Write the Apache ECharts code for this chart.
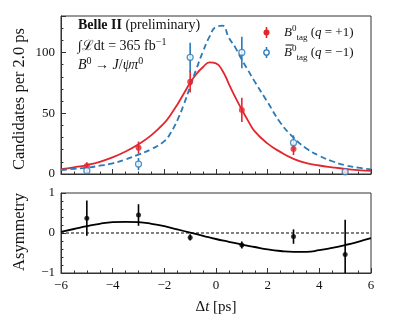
<!DOCTYPE html>
<html>
<head>
<meta charset="utf-8">
<script src="https://cdn.jsdelivr.net/npm/echarts@6/dist/echarts.min.js"></script>
<style>
html,body{margin:0;padding:0;background:#fff;}
#c{width:399px;height:332px;}
</style>
</head>
<body>
<div id="c"></div>
<script>
// ---- data ----
const ptX = [-5, -3, -1, 1, 3, 5];
const redY = [6.6, 21.7, 76, 52.7, 20.6, 1.5];
const redErr = [3, 5, 9, 10, 5, 1];
const blueY = [2.7, 8.2, 96, 100, 25.8, 1.9];
const blueErr = [2, 5, 12, 13, 6, 1.5];

const fitX = [-6,-5.5,-5,-4.5,-4,-3.5,-3,-2.5,-2,-1.75,-1.5,-1.25,-1,-0.75,-0.5,-0.25,0,0.25,0.5,0.75,1,1.25,1.5,2,2.5,3,3.5,4,4.5,5,5.5,6];
const redFit = [3.9,5.5,7.4,10,13.7,18.5,24.5,32,42,49,57,66,75,82.5,88,91.8,91,85,74,63,53,43.5,35,25,18,12.5,9,7,5.5,4.2,3.2,2.5];
const blueFit = [3.3,4.2,5.2,6.8,8.8,12,16,20.5,27,34,44,57,72,87,101,113,121,122,112,104,94,85,76,59,42,30,21,15,10.5,7.2,5.2,3.8];

const asymX = [-6,-5.5,-5,-4.5,-4,-3.5,-3,-2.5,-2,-1.5,-1,-0.5,0,0.5,1,1.5,2,2.5,3,3.5,4,4.5,5,5.5,6];
const asymY = [0.37, 0.45, -0.11, -0.30, -0.09, -0.54];
const asymErr = [0.44, 0.27, 0.08, 0.09, 0.18, 0.87];
const asymFit = [0.03,0.10,0.17,0.23,0.27,0.28,0.27,0.23,0.17,0.09,0.01,-0.07,-0.15,-0.22,-0.29,-0.35,-0.41,-0.45,-0.47,-0.47,-0.43,-0.37,-0.30,-0.22,-0.13];
const zeroLine = [[-6, 0], [6, 0]];

const xTicks = [-6, -4, -2, 0, 2, 4, 6];
const topYTicks = [0, 50, 100];
const botYTicks = [-1, 0, 1];

// ---- styles ----
const RED = '#e3262e';
const BLUE = '#2a7ab8';
const AX = '#333';
const SERIF = '"Liberation Serif", "DejaVu Serif", serif';
const fmt = v => (v < 0 ? '\u2212' + Math.abs(v) : String(v));

function errBar(color) {
  return function (params, api) {
    const x = api.value(0), y = api.value(1), e = api.value(2);
    const p1 = api.coord([x, y + e]);
    const p2 = api.coord([x, y - e]);
    return {type: 'line', shape: {x1: p1[0], y1: p1[1], x2: p2[0], y2: p2[1]},
      style: {stroke: color, lineWidth: 1.6}};
  };
}
const zip3 = (a, b, c) => a.map((v, i) => [v, b[i], c[i]]);
const zip2 = (a, b) => a.map((v, i) => [v, b[i]]);

const axLine = {show: true, onZero: false, lineStyle: {color: AX, width: 1}};
function xAxisDef(grid, labels) {
  return {
    type: 'value', gridIndex: grid, min: -6, max: 6, interval: 2,
    axisLine: axLine,
    axisTick: {show: true, inside: true, length: 5, lineStyle: {color: AX}},
    minorTick: {show: true, splitNumber: 4, length: 2.5, lineStyle: {color: AX}},
    splitLine: {show: false},
    axisLabel: {show: labels, margin: 6, fontFamily: SERIF, fontSize: 13, color: '#111',
      formatter: v => xTicks.includes(v) ? fmt(v) : ''}
  };
}

const option = {
  animation: false,
  backgroundColor: '#fff',
  grid: [
    {left: 61, top: 16, width: 310, height: 158, show: true, borderColor: AX, borderWidth: 1, backgroundColor: 'transparent'},
    {left: 61, top: 193, width: 310, height: 80, show: true, borderColor: AX, borderWidth: 1, backgroundColor: 'transparent'}
  ],
  xAxis: [xAxisDef(0, false), xAxisDef(1, true)],
  yAxis: [
    {type: 'value', gridIndex: 0, min: 0, max: 130, interval: 50,
      axisLine: axLine,
      axisTick: {show: true, inside: true, length: 5, lineStyle: {color: AX}},
      splitLine: {show: false},
      axisLabel: {margin: 6, fontFamily: SERIF, fontSize: 13, color: '#111',
        formatter: v => topYTicks.includes(v) ? fmt(v) : ''}},
    {type: 'value', gridIndex: 0, min: 0, max: 130, interval: 10, position: 'left',
      axisLine: {show: false, onZero: false},
      axisTick: {show: true, inside: true, length: 2.5, lineStyle: {color: AX}},
      splitLine: {show: false}, axisLabel: {show: false}},
    {type: 'value', gridIndex: 1, min: -1, max: 1, interval: 1,
      axisLine: axLine,
      axisTick: {show: true, inside: true, length: 5, lineStyle: {color: AX}},
      minorTick: {show: true, splitNumber: 5, length: 2.5, lineStyle: {color: AX}},
      splitLine: {show: false},
      axisLabel: {margin: 6, fontFamily: SERIF, fontSize: 13, color: '#111',
        formatter: v => botYTicks.includes(v) ? fmt(v) : ''}}
  ],
  series: [
    {type: 'line', xAxisIndex: 0, yAxisIndex: 0, data: zip2(fitX, redFit), smooth: 0.5,
      showSymbol: false, lineStyle: {color: RED, width: 1.8}, z: 2},
    {type: 'line', xAxisIndex: 0, yAxisIndex: 0, data: zip2(fitX, blueFit), smooth: 0.5,
      showSymbol: false, lineStyle: {color: BLUE, width: 1.8, type: [6, 3.5]}, z: 2},
    {type: 'custom', xAxisIndex: 0, yAxisIndex: 0, renderItem: errBar(RED), clip: true,
      data: zip3(ptX, redY, redErr), z: 3},
    {type: 'scatter', xAxisIndex: 0, yAxisIndex: 0, data: zip2(ptX, redY), symbol: 'circle', symbolSize: 6,
      itemStyle: {color: RED}, z: 4},
    {type: 'custom', xAxisIndex: 0, yAxisIndex: 0, renderItem: errBar(BLUE), clip: true,
      data: zip3(ptX, blueY, blueErr), z: 3},
    {type: 'scatter', xAxisIndex: 0, yAxisIndex: 0, data: zip2(ptX, blueY), symbol: 'circle', symbolSize: 6,
      itemStyle: {color: '#fff', borderColor: BLUE, borderWidth: 1.3}, z: 5},

    {type: 'line', xAxisIndex: 1, yAxisIndex: 2, data: zeroLine, showSymbol: false,
      lineStyle: {color: '#000', width: 1, type: [3, 2]}, z: 1},
    {type: 'line', xAxisIndex: 1, yAxisIndex: 2, data: zip2(asymX, asymFit), smooth: 0.5,
      showSymbol: false, lineStyle: {color: '#000', width: 1.8}, z: 2},
    {type: 'custom', xAxisIndex: 1, yAxisIndex: 2, renderItem: errBar('#000'), clip: true,
      data: zip3(ptX, asymY, asymErr), z: 3},
    {type: 'scatter', xAxisIndex: 1, yAxisIndex: 2, data: zip2(ptX, asymY), symbol: 'circle', symbolSize: 5,
      itemStyle: {color: '#000'}, z: 4}
  ],
  graphic: [
    // in-plot text
    {type: 'text', left: 78, top: 18, style: {
      text: '{b|Belle II} (preliminary)', fontFamily: SERIF, fontSize: 14, fill: '#111',
      rich: {b: {fontWeight: 'bold', fontFamily: SERIF, fontSize: 14, fill: '#111'}}}},
    {type: 'text', left: 78, top: 37, style: {
      text: '\u222B\u2112dt = 365 fb{sup|\u22121}', fontFamily: SERIF, fontSize: 14, fill: '#111',
      rich: {sup: {fontSize: 10, fontFamily: SERIF, verticalAlign: 'top', lineHeight: 18, fill: '#111'}}}},
    {type: 'text', left: 78, top: 56, style: {
      text: '{i|B}{sup|0} \u2192 {i|J}/{i|\u03C8\u03C0}{sup|0}', fontFamily: SERIF, fontSize: 14, fill: '#111',
      rich: {i: {fontStyle: 'italic', fontFamily: SERIF, fontSize: 14, fill: '#111', lineHeight: 18},
        sup: {fontSize: 10, fontFamily: SERIF, verticalAlign: 'top', lineHeight: 18, fill: '#111'}}}},
    // legend
    {type: 'line', shape: {x1: 266.5, y1: 27, x2: 266.5, y2: 38}, style: {stroke: RED, lineWidth: 1.6}},
    {type: 'circle', shape: {cx: 266.5, cy: 32.5, r: 3}, style: {fill: RED}},
    {type: 'line', shape: {x1: 266.5, y1: 47, x2: 266.5, y2: 58}, style: {stroke: BLUE, lineWidth: 1.6}},
    {type: 'circle', shape: {cx: 266.5, cy: 52.5, r: 2.7}, style: {fill: '#fff', stroke: BLUE, lineWidth: 1.3}},
    {type: 'text', left: 284, top: 24, style: {
      text: '{i|B}{sup|0}{sub|tag} ({i|q} = +1)', fontFamily: SERIF, fontSize: 13, fill: '#111',
      rich: {i: {fontStyle: 'italic', fontFamily: SERIF, fontSize: 13, fill: '#111', lineHeight: 18},
        sup: {fontSize: 9, fontFamily: SERIF, verticalAlign: 'top', lineHeight: 18, fill: '#111'},
        sub: {fontSize: 9, fontFamily: SERIF, verticalAlign: 'bottom', lineHeight: 18, fill: '#111'}}}},
    {type: 'text', left: 284, top: 44, style: {
      text: '{i|B}{sup|0}{sub|tag} ({i|q} = \u22121)', fontFamily: SERIF, fontSize: 13, fill: '#111',
      rich: {i: {fontStyle: 'italic', fontFamily: SERIF, fontSize: 13, fill: '#111', lineHeight: 18},
        sup: {fontSize: 9, fontFamily: SERIF, verticalAlign: 'top', lineHeight: 18, fill: '#111'},
        sub: {fontSize: 9, fontFamily: SERIF, verticalAlign: 'bottom', lineHeight: 18, fill: '#111'}}}},
    {type: 'line', shape: {x1: 285.5, y1: 45, x2: 293.5, y2: 45}, style: {stroke: '#111', lineWidth: 1}},
    // axis titles
    {type: 'text', x: 20, y: 99, rotation: Math.PI / 2, style: {
      text: 'Candidates per 2.0 ps', fontFamily: SERIF, fontSize: 16.5, fill: '#111',
      align: 'center', verticalAlign: 'middle'}},
    {type: 'text', x: 20, y: 232, rotation: Math.PI / 2, style: {
      text: 'Asymmetry', fontFamily: SERIF, fontSize: 16.5, fill: '#111',
      align: 'center', verticalAlign: 'middle'}},
    {type: 'text', x: 216, y: 307, style: {
      text: '\u0394{i|t} [ps]', fontFamily: SERIF, fontSize: 15, fill: '#111',
      align: 'center', verticalAlign: 'middle',
      rich: {i: {fontStyle: 'italic', fontFamily: SERIF, fontSize: 15, fill: '#111'}}}}
  ]
};
const chart = echarts.init(document.getElementById('c'), null, {renderer: 'canvas'});
chart.setOption(option);
</script>
</body>
</html>
